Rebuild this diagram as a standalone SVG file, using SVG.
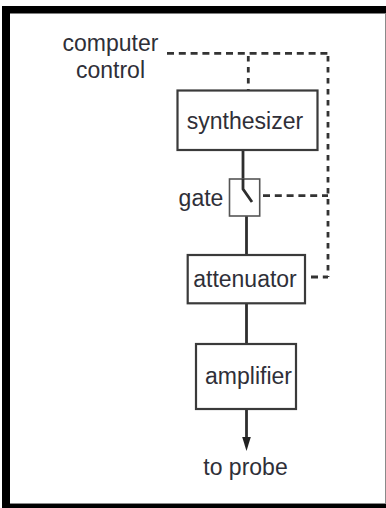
<svg xmlns="http://www.w3.org/2000/svg" width="386" height="508" viewBox="0 0 386 508">
<style>
text{font-family:"Liberation Sans",Arial,sans-serif;font-size:23px;fill:#2f2f38;text-anchor:middle}
.b{fill:#fff;stroke:#3a3a3a;stroke-width:2.2}
.g{fill:#fff;stroke:#555;stroke-width:1.600}
.s{fill:none;stroke:#2e2e2e;stroke-width:2.8}
.h{fill:none;stroke:#333;stroke-width:2.800;stroke-dasharray:7 4.800}
.v{fill:none;stroke:#333;stroke-width:2.800;stroke-dasharray:5.500 5.500}
</style>
<rect x="0" y="0" width="386" height="508" fill="#fff"/>
<path d="M2 508V6H386V13.500H10V503.500H386V508Z" fill="#000"/>
<path d="M385 13.500V503H10V504H386V13.500Z" fill="#8a8a8a"/>
<g id="connectors">
<path class="s" d="M243 151V179"/>
<path class="s" d="M246.500 216V255"/>
<path class="s" d="M246.500 303V344"/>
<path class="s" d="M246.500 409V438"/>
<path d="M242.200 437H250.800L246.500 451Z" fill="#222"/>
<path class="h" d="M167 53.300H328"/>
<path class="v" d="M328 56V277"/>
<path class="v" d="M248.300 56V90"/>
<path class="h" d="M263 195.700H328"/>
<path class="h" d="M311 277H328"/>
</g>
<g id="synthesizer"><rect class="b" x="177.500" y="90.500" width="140" height="59.500"/><text x="245" y="128.500">synthesizer</text></g>
<g id="gate"><rect class="g" x="229.500" y="179" width="30.200" height="37"/><path class="s" d="M243 179V189L252 202"/><text x="201" y="205.500">gate</text></g>
<g id="attenuator"><rect class="b" x="187.700" y="255" width="117.300" height="48.300"/><text x="245" y="286.500">attenuator</text></g>
<g id="amplifier"><rect class="b" x="196" y="344" width="100" height="65"/><text x="248.500" y="383.500">amplifier</text></g>
<g id="label-computer-control"><text x="110.500" y="51">computer</text><text x="110.500" y="78">control</text></g>
<g id="label-to-probe"><text x="245.500" y="474.500">to probe</text></g>
</svg>
